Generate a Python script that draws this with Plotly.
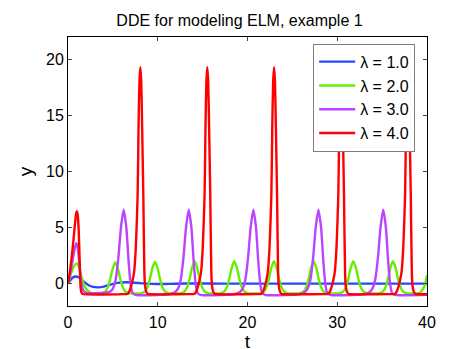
import plotly.graph_objects as go

# ---- data ----
blue_t = [0, 0.3, 0.6, 0.9, 1.3, 1.8, 2.3, 2.8, 3.4, 4.0, 4.6, 5.2, 5.9, 6.6, 7.4, 8.3, 9.3,
          10.5, 12, 14, 17, 20, 25, 30, 35, 40]
blue_y = [0, 0.35, 0.58, 0.63, 0.5, 0.15, -0.15, -0.3, -0.34, -0.27, -0.12, 0.02, 0.1, 0.12,
          0.08, 0.02, -0.03, -0.04, -0.01, 0.01, 0, 0, 0, 0, 0, 0]

green_t = [0, 0.3, 0.6, 0.95, 1.25, 1.5, 1.8, 2.1, 2.5, 3.1,
           3.77, 4.17, 4.47, 4.72, 4.97, 5.27, 5.57, 5.82, 6.07, 6.37, 6.77, 7.48,
           8.19, 8.59, 8.89, 9.14, 9.39, 9.69, 9.99, 10.24, 10.49, 10.79, 11.19, 11.9,
           12.61, 13.01, 13.31, 13.56, 13.81, 14.11, 14.41, 14.66, 14.91, 15.21, 15.61, 16.32,
           17.03, 17.43, 17.73, 17.98, 18.23, 18.53, 18.83, 19.08, 19.33, 19.63, 20.03, 20.74,
           21.45, 21.85, 22.15, 22.4, 22.65, 22.95, 23.25, 23.5, 23.75, 24.05, 24.45, 25.16,
           25.87, 26.27, 26.57, 26.82, 27.07, 27.37, 27.67, 27.92, 28.17, 28.47, 28.87, 29.58,
           30.29, 30.69, 30.99, 31.24, 31.49, 31.79, 32.09, 32.34, 32.59, 32.89, 33.29, 34.0,
           34.71, 35.11, 35.41, 35.66, 35.91, 36.21, 36.51, 36.76, 37.01, 37.31, 37.71, 38.42,
           39.2, 39.55, 39.8, 40.0]
green_y = [0, 0.8, 1.45, 1.8, 1.4, 0.6, -0.15, -0.55, -0.8, -0.88,
           -0.85, -0.7, -0.25, 0.45, 1.3, 1.9, 1.3, 0.45, -0.25, -0.7, -0.85, -0.88,
           -0.85, -0.7, -0.25, 0.45, 1.35, 1.95, 1.35, 0.45, -0.25, -0.7, -0.85, -0.88,
           -0.85, -0.7, -0.25, 0.45, 1.38, 2.0, 1.38, 0.45, -0.25, -0.7, -0.85, -0.88,
           -0.85, -0.7, -0.25, 0.45, 1.38, 2.0, 1.38, 0.45, -0.25, -0.7, -0.85, -0.88,
           -0.85, -0.7, -0.25, 0.45, 1.38, 2.0, 1.38, 0.45, -0.25, -0.7, -0.85, -0.88,
           -0.85, -0.7, -0.25, 0.45, 1.38, 2.0, 1.38, 0.45, -0.25, -0.7, -0.85, -0.88,
           -0.85, -0.7, -0.25, 0.45, 1.38, 2.0, 1.38, 0.45, -0.25, -0.7, -0.85, -0.88,
           -0.85, -0.7, -0.25, 0.45, 1.38, 2.0, 1.38, 0.45, -0.25, -0.7, -0.85, -0.88,
           -0.82, -0.5, 0.0, 0.75]

purple_t = [0, 0.3, 0.6, 0.8, 0.95, 1.1, 1.3, 1.5, 1.7, 2.0, 3.0,
            4.2, 4.7, 5.0, 5.3, 5.6, 5.9, 6.2, 6.5, 6.75, 7.0, 7.2, 7.5,
            10.45, 11.45, 11.95, 12.25, 12.55, 12.85, 13.15, 13.45, 13.75, 14.0, 14.25, 14.45, 14.75,
            17.65, 18.65, 19.15, 19.45, 19.75, 20.05, 20.35, 20.65, 20.95, 21.2, 21.45, 21.65, 21.95,
            24.9, 25.9, 26.4, 26.7, 27.0, 27.3, 27.6, 27.9, 28.2, 28.45, 28.7, 28.9, 29.2,
            32.12, 33.12, 33.62, 33.92, 34.22, 34.52, 34.82, 35.12, 35.42, 35.67, 35.92, 36.12, 36.42,
            40.0]
purple_y = [0, 1.1, 2.5, 3.3, 3.6, 3.1, 1.4, 0.0, -0.6, -0.8, -0.85,
            -0.82, -0.72, -0.45, 0.3, 2.2, 5.0, 6.6, 5.0, 2.0, -0.2, -0.85, -1.0,
            -1.0, -0.93, -0.75, -0.45, 0.3, 2.2, 5.0, 6.6, 5.0, 2.0, -0.2, -0.85, -1.0,
            -1.0, -0.93, -0.75, -0.45, 0.3, 2.2, 5.0, 6.6, 5.0, 2.0, -0.2, -0.85, -1.0,
            -1.0, -0.93, -0.75, -0.45, 0.3, 2.2, 5.0, 6.6, 5.0, 2.0, -0.2, -0.85, -1.0,
            -1.0, -0.93, -0.75, -0.45, 0.3, 2.2, 5.0, 6.6, 5.0, 2.0, -0.2, -0.85, -1.0,
            -1.0]

red_t = [0, 0.2, 0.4, 0.6, 0.75, 0.9, 1.0, 1.1, 1.2, 1.3, 1.4, 1.5, 1.65,
         6.06, 6.66, 6.86, 7.06, 7.21, 7.36, 7.56, 7.76, 7.86, 7.96, 8.06, 8.16, 8.26, 8.39,
         8.51, 8.58, 8.71, 8.89, 9.06,
         13.52, 14.12, 14.32, 14.52, 14.67, 14.82, 15.02, 15.22, 15.32, 15.42, 15.52, 15.62,
         15.72, 15.85, 15.97, 16.04, 16.17, 16.35, 16.52,
         20.96, 21.56, 21.76, 21.96, 22.11, 22.26, 22.46, 22.66, 22.76, 22.86, 22.96, 23.06,
         23.16, 23.29, 23.41, 23.48, 23.61, 23.79, 23.96,
         28.42, 29.02, 29.22, 29.42, 29.57, 29.72, 29.92, 30.12, 30.22, 30.32, 30.42, 30.52,
         30.62, 30.75, 30.87, 30.94, 31.07, 31.25, 31.42,
         35.86, 36.46, 36.66, 36.86, 37.01, 37.16, 37.36, 37.56, 37.66, 37.76, 37.86, 37.96,
         38.06, 38.19, 38.31, 38.38, 38.51, 38.69, 38.86,
         40.0]
red_y = [0, 1.0, 2.3, 3.8, 5.1, 6.2, 6.45, 6.0, 4.6, 2.0, -0.3, -0.8, -0.93,
         -0.94, -0.9, -0.65, -0.15, 0.35, 1.0, 3.3, 8.0, 14.0, 18.0, 19.3, 18.0, 14.0, 8.0,
         1.0, -0.15, -0.7, -0.93, -0.95,
         -0.94, -0.9, -0.65, -0.15, 0.35, 1.0, 3.3, 8.0, 14.0, 18.0, 19.3, 18.0,
         14.0, 8.0, 1.0, -0.15, -0.7, -0.93, -0.95,
         -0.94, -0.9, -0.65, -0.15, 0.35, 1.0, 3.3, 8.0, 14.0, 18.0, 19.3, 18.0,
         14.0, 8.0, 1.0, -0.15, -0.7, -0.93, -0.95,
         -0.94, -0.9, -0.65, -0.15, 0.35, 1.0, 3.3, 8.0, 14.0, 18.0, 19.3, 18.0,
         14.0, 8.0, 1.0, -0.15, -0.7, -0.93, -0.95,
         -0.94, -0.9, -0.65, -0.15, 0.35, 1.0, 3.3, 8.0, 14.0, 18.0, 19.3, 18.0,
         14.0, 8.0, 1.0, -0.15, -0.7, -0.93, -0.95,
         -0.95]

series_names = ["λ = 1.0", "λ = 2.0", "λ = 3.0", "λ = 4.0"]
series_colors = ["#2646ff", "#66ee00", "#bb44ff", "#ff0000"]
x_ticks = [0, 10, 20, 30, 40]
y_ticks = [0, 5, 10, 15, 20]

FONT = "Liberation Sans, Arial, Helvetica, sans-serif"

fig = go.Figure()
for (tt, yy), name, col in zip([(blue_t, blue_y), (green_t, green_y),
                                (purple_t, purple_y), (red_t, red_y)],
                               series_names, series_colors):
    fig.add_trace(go.Scatter(x=tt, y=yy, mode="lines", name=name,
                             line=dict(color=col, width=2.4, shape="spline", smoothing=0.6)))

fig.update_layout(
    width=463, height=349,
    margin=dict(l=60, r=44, t=29, b=41),
    paper_bgcolor="white", plot_bgcolor="white",
    font=dict(family=FONT, size=16, color="black"),
    title=dict(text="DDE for modeling ELM, example 1", x=0.5, xanchor="center",
               y=1 - 12 / 349, yanchor="middle", font=dict(size=16)),
    legend=dict(x=0.967, y=0.975, xanchor="right", yanchor="top",
                bgcolor="white", bordercolor="#7f7f7f", borderwidth=1,
                font=dict(size=16), tracegroupgap=0, itemwidth=36),
    showlegend=True,
)
fig.update_xaxes(range=[0, 40], tickvals=x_ticks, ticks="inside", ticklen=4,
                 showline=True, linecolor="black", linewidth=1, mirror="ticks",
                 showgrid=False, zeroline=False, ticklabelstandoff=2,
                 title=dict(text="t", standoff=0))
fig.update_yaxes(range=[-2, 22], tickvals=y_ticks, ticks="inside", ticklen=4,
                 showline=True, linecolor="black", linewidth=1, mirror="ticks",
                 showgrid=False, zeroline=False,
                 title=dict(text="y", standoff=8))

fig.write_html("out.html")
